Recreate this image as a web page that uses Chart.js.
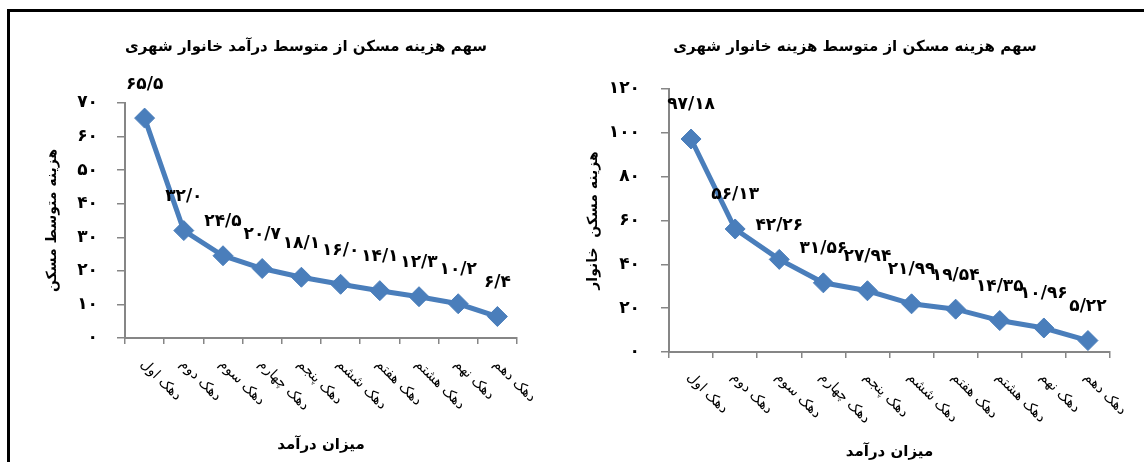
<!DOCTYPE html>
<html>
<head>
<meta charset="utf-8">
<script src="https://cdn.jsdelivr.net/npm/chart.js@4/dist/chart.umd.min.js"></script>
<style>
  body { margin: 0; background: #fff; width: 1144px; height: 462px; overflow: hidden; position: relative; }
  canvas { position: absolute; top: 0; }
  #frame { position: absolute; left: 7px; top: 9px; width: 1200px; height: 500px;
           border-top: 3px solid #000; border-left: 3px solid #000; pointer-events: none; }
</style>
</head>
<body>
<canvas id="left" width="592" height="462" style="left:10px"></canvas>
<canvas id="right" width="570" height="462" style="left:570px"></canvas>
<div id="frame"></div>
<script>
const deciles = ["دهک اول", "دهک دوم", "دهک سوم", "دهک چهارم", "دهک پنجم",
                 "دهک ششم", "دهک هفتم", "دهک هشتم", "دهک نهم", "دهک دهم"];
const incomeShare = [65.5, 32.0, 24.5, 20.7, 18.1, 16.0, 14.1, 12.3, 10.2, 6.4];
const expenseShare = [97.18, 56.13, 42.26, 31.56, 27.94, 21.99, 19.54, 14.35, 10.96, 5.22];

const leftTitle = "سهم هزینه مسکن از متوسط درآمد خانوار شهری";
const rightTitle = "سهم هزینه مسکن از متوسط هزینه خانوار شهری";
const leftYTitle = "هزینه متوسط مسکن";
const rightYTitle = "هزینه مسکن  خانوار";
const xTitle = "میزان درآمد";

const FONT = "'DejaVu Sans', sans-serif";
const BLUE = "#4a7ebb";
const AXIS = "#868686";

function fa(s) {
    return String(s).replace(/\d/g, d => "۰۱۲۳۴۵۶۷۸۹"[d]).replace(".", "/");
}

// data labels above points + rotated category labels under the x axis
const labelsPlugin = {
    id: "labels",
    afterDatasetsDraw(chart, args, opts) {
        const ctx = chart.ctx;
        const meta = chart.getDatasetMeta(0);
        const data = chart.data.datasets[0].data;
        ctx.save();
        ctx.fillStyle = "#000";
        ctx.font = "bold 17px " + FONT;
        ctx.textAlign = "center";
        ctx.textBaseline = "middle";
        meta.data.forEach((pt, i) => {
            ctx.fillText(fa(data[i].toFixed(opts.decimals)), pt.x, pt.y - 34);
        });
        const xs = chart.scales.x;
        ctx.font = "14px " + FONT;
        ctx.textAlign = "left";
        chart.data.labels.forEach((lab, i) => {
            ctx.save();
            ctx.translate(xs.getPixelForTick(i) - 2, xs.top + opts.labelGap);
            ctx.rotate(Math.PI / 4);
            ctx.fillText(lab, 0, 0);
            ctx.restore();
        });
        ctx.restore();
    }
};

function makeChart(id, o) {
    return new Chart(document.getElementById(id), {
        type: "line",
        data: {
            labels: deciles,
            datasets: [{
                data: o.values,
                borderColor: BLUE,
                backgroundColor: BLUE,
                borderWidth: 5,
                pointStyle: "rectRot",
                pointRadius: 10,
                pointBorderWidth: 1,
                tension: 0
            }]
        },
        options: {
            responsive: false,
            animation: false,
            layout: { padding: 0 },
            plugins: {
                legend: { display: false },
                tooltip: { enabled: false },
                title: {
                    display: true,
                    text: o.title,
                    color: "#000",
                    font: { family: FONT, size: 15, weight: "bold" },
                    padding: { top: o.titleTop, bottom: o.titleBottom }
                },
                labels: { decimals: o.decimals, labelGap: o.labelGap }
            },
            scales: {
                x: {
                    offset: true,
                    grid: { offset: true, drawOnChartArea: false, color: AXIS, lineWidth: 1.5, tickLength: 6 },
                    border: { color: AXIS, width: 2 },
                    ticks: { display: false },
                    title: {
                        display: true,
                        text: xTitle,
                        color: "#000",
                        font: { family: FONT, size: 15, weight: "bold" },
                        padding: { top: 0, bottom: o.xTitleBottom }
                    },
                    afterFit(s) { s.height = o.xHeight; }
                },
                y: {
                    min: 0,
                    max: o.max,
                    grid: { drawOnChartArea: false, color: AXIS, lineWidth: 1.5, tickLength: 8 },
                    border: { color: AXIS, width: 2 },
                    ticks: {
                        stepSize: o.step,
                        padding: o.tickPad,
                        color: "#000",
                        font: { family: FONT, size: 17, weight: "bold" },
                        callback: v => fa(v)
                    },
                    title: {
                        display: true,
                        text: o.yTitle,
                        color: "#000",
                        font: { family: FONT, size: 14, weight: "bold" },
                        padding: { top: o.yTitlePad, bottom: 0 }
                    },
                    afterFit(s) { s.width = o.yWidth; }
                },
                pad: {
                    type: "linear",
                    position: "right",
                    grid: { display: false },
                    border: { display: false },
                    ticks: { display: false },
                    afterFit(s) { s.width = o.rightPad; }
                }
            }
        },
        plugins: [labelsPlugin]
    });
}

makeChart("left", {
    values: incomeShare, title: leftTitle, yTitle: leftYTitle, decimals: 1,
    max: 70, step: 10, titleTop: 38, titleBottom: 47, xHeight: 124, xTitleBottom: 8,
    yWidth: 115, rightPad: 85, tickPad: 19, yTitlePad: 33.6, labelGap: 24
});

makeChart("right", {
    values: expenseShare, title: rightTitle, yTitle: rightYTitle, decimals: 2,
    max: 120, step: 20, titleTop: 38, titleBottom: 33, xHeight: 110, xTitleBottom: 1,
    yWidth: 99, rightPad: 30, tickPad: 21, yTitlePad: 14.6, labelGap: 23
});
</script>
</body>
</html>
